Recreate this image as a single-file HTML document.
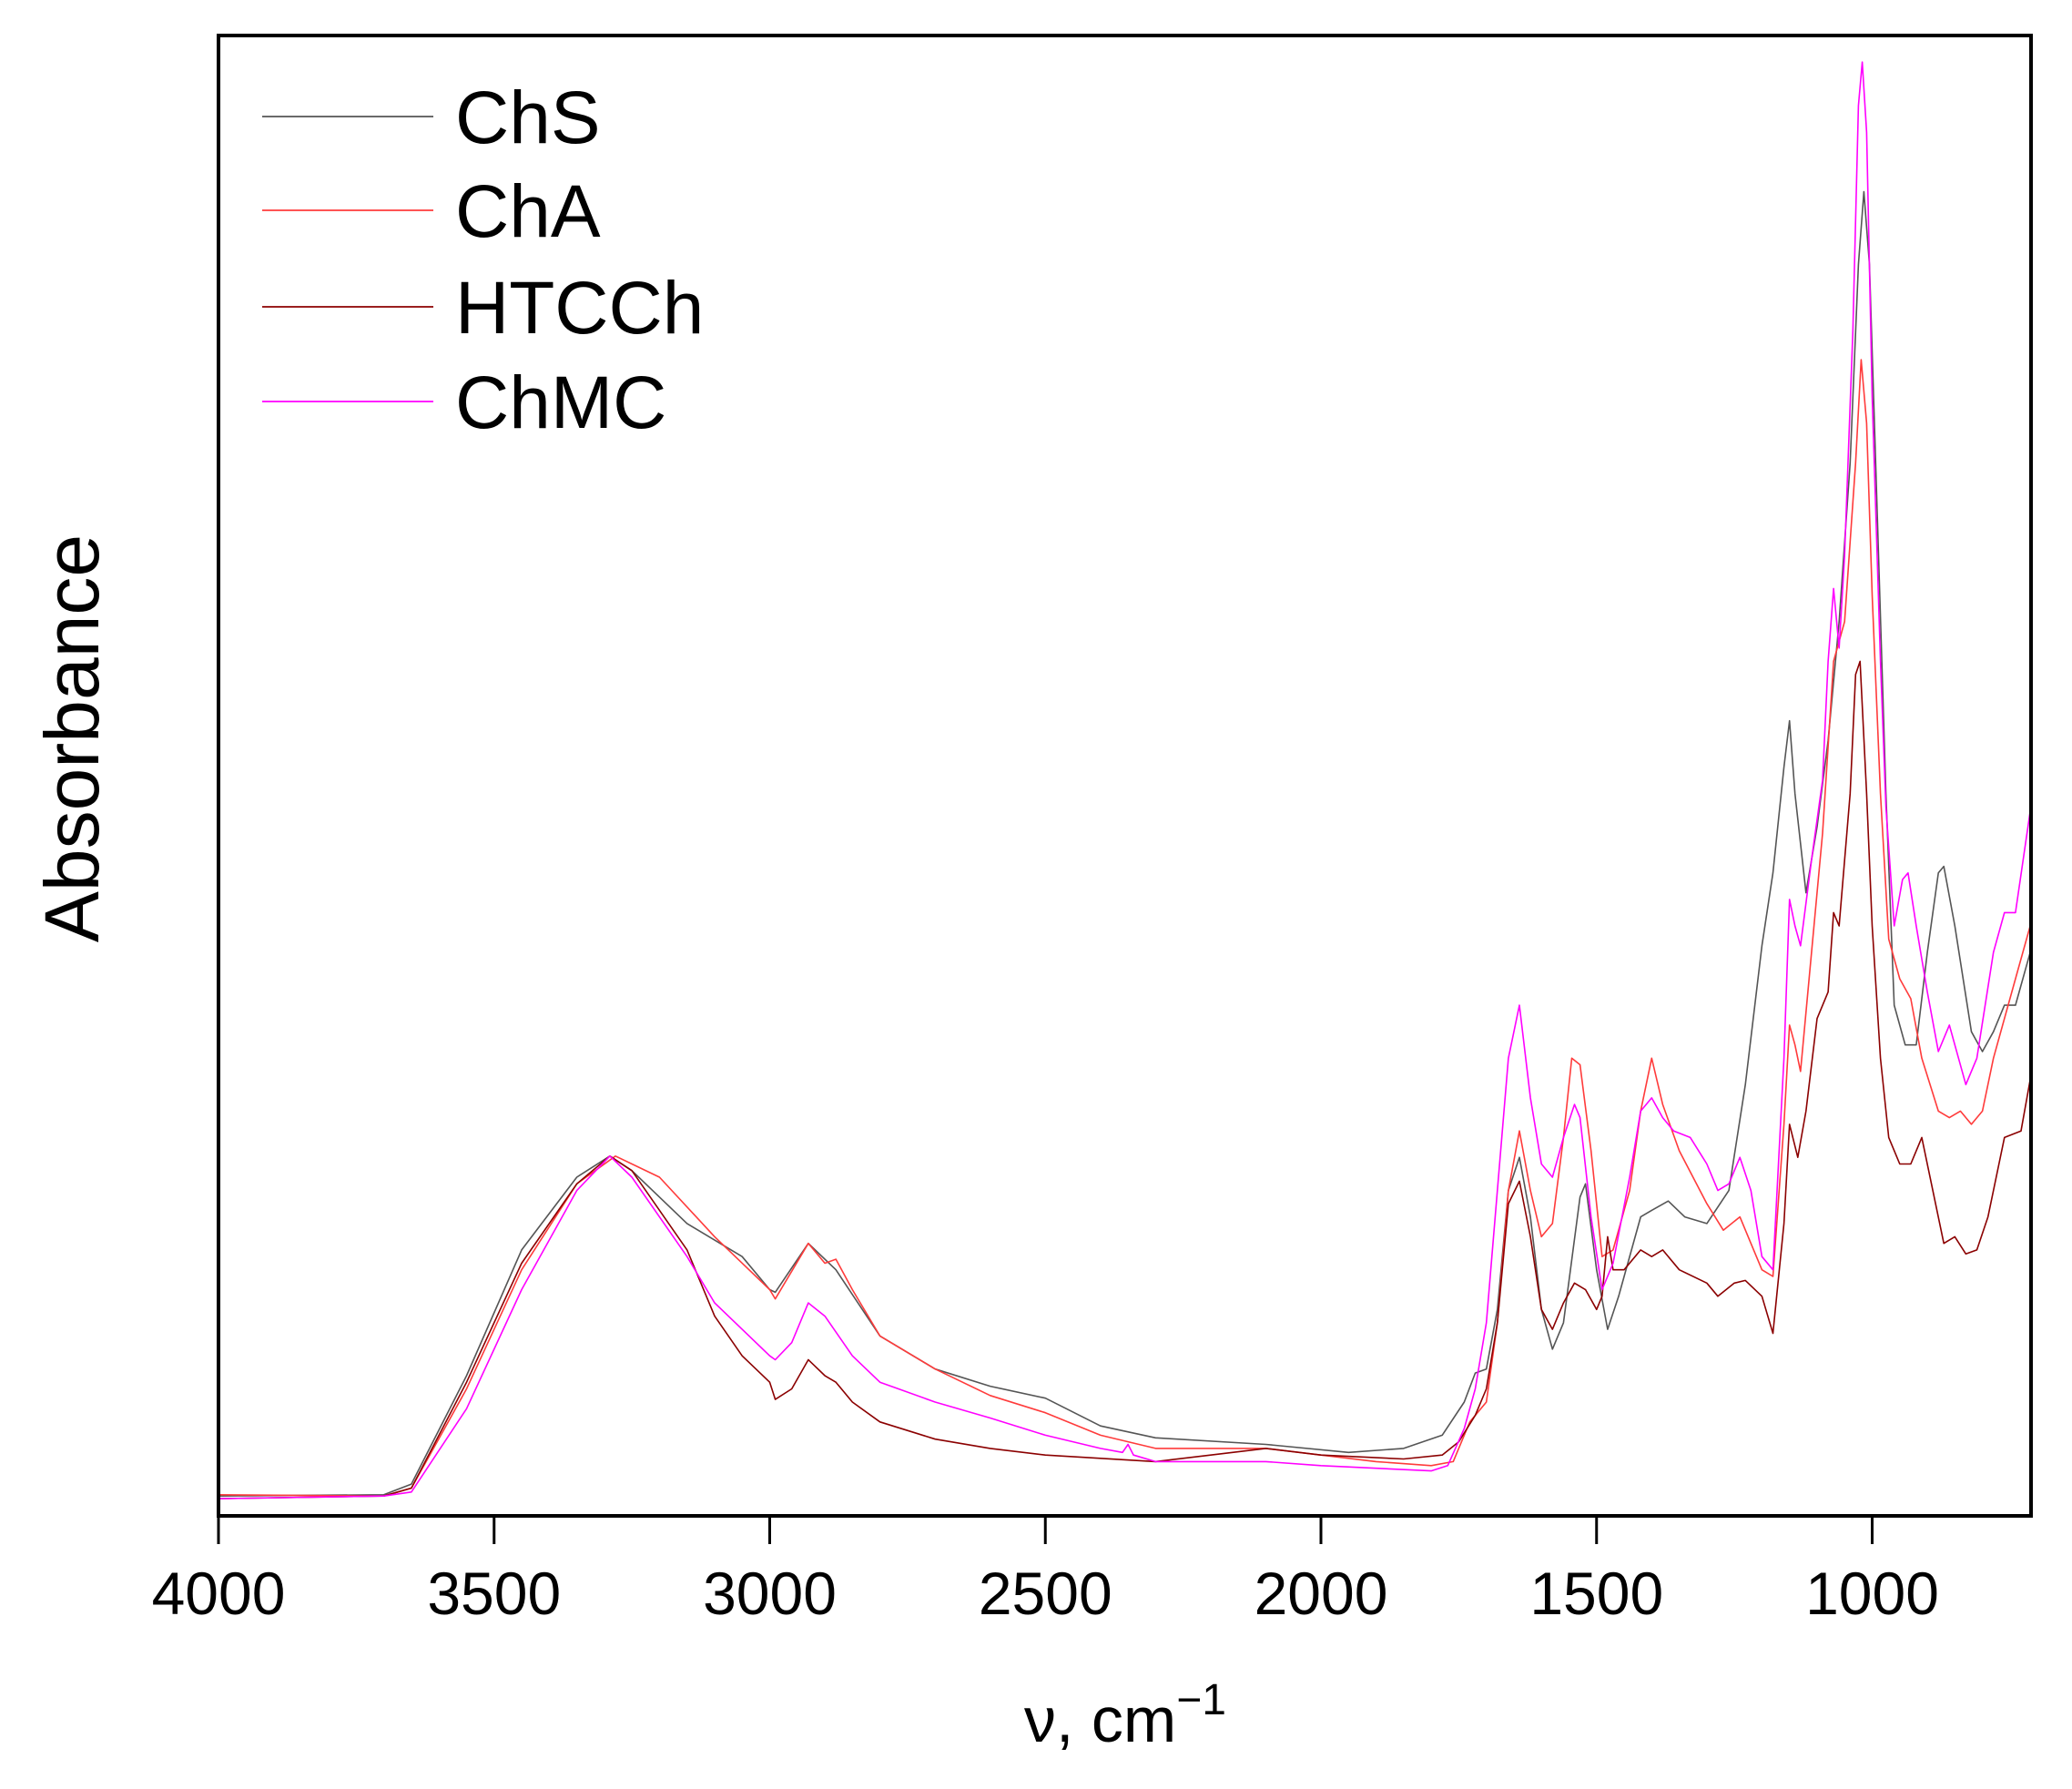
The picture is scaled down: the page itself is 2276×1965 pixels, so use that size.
<!DOCTYPE html>
<html><head><meta charset="utf-8"><style>
body{margin:0;background:#fff}
svg text{font-family:"Liberation Sans",Arial,sans-serif;fill:#000}
</style></head><body>
<svg id="chart" width="2276" height="1960" viewBox="0 0 2276 1960" xmlns="http://www.w3.org/2000/svg">
<rect width="2276" height="1960" fill="#fff"/>
<defs><clipPath id="pc"><rect x="240" y="39" width="1991" height="1626"/></clipPath></defs>
<g id="series" clip-path="url(#pc)"></g>
<rect x="240" y="39" width="1991" height="1626" fill="none" stroke="#000" stroke-width="4"/>
<g id="ticks"></g>
<text x="1236" y="1913" font-size="70" text-anchor="middle">ν, cm<tspan dy="-30" font-size="48">−1</tspan></text>
<text transform="translate(108,811) rotate(-90)" font-size="84" text-anchor="middle">Absorbance</text>
<g id="legend"></g>
</svg>
<script>
const xTicks=[4000,3500,3000,2500,2000,1500,1000];
const seriesNames=["ChS","ChA","HTCCh","ChMC"];
const seriesColors=["#555555","#ff3b3b","#8b0000","#ff00ff"];
const chsX=[4000,3700,3650,3550,3450,3350,3290,3250,3150,3050,3000,2990,2930,2880,2800,2700,2600,2500,2400,2300,2100,1950,1850,1780,1740,1720,1700,1680,1660,1640,1620,1600,1580,1560,1530,1520,1500,1480,1460,1420,1400,1370,1340,1300,1260,1230,1200,1180,1160,1150,1140,1120,1100,1080,1060,1040,1025,1015,1005,990,975,960,940,920,900,880,870,850,820,800,780,760,740,700];
const chsY=[1.5,1.6,2.4,10.6,20.1,25.6,27.2,26.1,22.1,19.6,17.1,16.9,20.6,18.6,13.6,11.1,9.8,8.9,6.8,5.9,5.4,4.8,5.1,6.1,8.6,10.8,11.1,15.6,24.6,27.1,22.6,15.6,12.6,14.6,24.1,25.1,18.6,14.1,16.6,22.6,23.1,23.8,22.6,22.1,24.6,32.6,43.1,48.6,56.6,60.1,54.6,47.1,52.1,58.6,67.6,79.6,94.6,100.1,94.6,74.6,54.6,38.6,35.6,35.6,42.6,48.6,49.1,44.6,36.6,35.1,36.6,38.6,38.6,44.6];
const chaX=[4000,3700,3650,3550,3450,3350,3280,3200,3100,3000,2990,2930,2900,2880,2850,2800,2700,2600,2500,2400,2300,2100,2000,1900,1800,1760,1730,1700,1680,1660,1640,1620,1600,1580,1560,1545,1530,1510,1490,1470,1440,1420,1400,1380,1350,1300,1270,1240,1220,1200,1180,1160,1150,1140,1130,1110,1090,1070,1050,1030,1020,1010,1000,985,970,950,930,910,880,860,840,820,800,780,740,700];
const chaY=[1.6,1.5,2.1,9.6,18.6,25.1,27.2,25.6,21.1,17.1,16.4,20.6,19.1,19.4,17.1,13.6,11.1,9.1,7.8,6.1,5.1,5.1,4.6,4.1,3.8,4.1,7.1,8.6,14.6,24.6,29.1,24.6,21.1,22.1,28.6,34.6,34.1,27.6,19.6,20.1,24.6,30.6,34.6,31.1,27.6,23.6,21.6,22.6,20.6,18.6,18.1,29.6,37.1,35.6,33.6,42.6,51.6,64.6,67.6,79.6,87.4,82.6,69.6,54.6,43.6,40.6,39.1,34.6,30.6,30.1,30.6,29.6,30.6,34.6,40.6,46.6];
const htcX=[4000,3700,3650,3550,3450,3350,3290,3250,3150,3100,3050,3000,2990,2960,2930,2900,2880,2850,2800,2700,2600,2500,2300,2200,2100,2000,1850,1780,1750,1720,1700,1680,1660,1640,1620,1600,1580,1560,1540,1520,1500,1490,1480,1470,1450,1420,1400,1380,1350,1300,1280,1250,1230,1200,1180,1160,1150,1135,1120,1100,1080,1070,1060,1040,1030,1022,1010,1000,985,970,950,930,910,890,870,850,830,810,790,760,730,700];
const htcY=[1.3,1.5,2.1,10.1,19.1,25.1,27.2,26.1,20.1,15.1,12.1,10.1,8.8,9.6,11.8,10.6,10.1,8.6,7.1,5.8,5.1,4.6,4.1,4.6,5.1,4.6,4.3,4.6,5.6,7.6,9.6,14.6,23.6,25.3,21.1,15.6,14.1,16.1,17.6,17.1,15.6,16.6,21.1,18.6,18.6,20.1,19.6,20.1,18.6,17.6,16.6,17.6,17.8,16.6,13.8,22.1,29.6,27.1,30.6,37.6,39.6,45.6,44.6,54.6,63.6,64.6,54.6,44.6,34.6,28.6,26.6,26.6,28.6,24.6,20.6,21.1,19.8,20.1,22.6,28.6,29.1,36.1];
const chmX=[4000,3700,3650,3550,3450,3350,3290,3250,3150,3100,3050,3000,2990,2960,2930,2900,2850,2800,2700,2600,2500,2400,2360,2350,2340,2300,2100,2000,1800,1770,1740,1720,1700,1680,1660,1640,1620,1600,1580,1560,1540,1530,1510,1490,1470,1440,1420,1400,1380,1360,1330,1300,1280,1260,1240,1220,1200,1180,1160,1150,1140,1130,1110,1090,1080,1070,1060,1050,1035,1025,1018,1010,1000,985,975,960,945,935,920,900,880,860,850,830,810,780,760,740,700];
const chmY=[1.3,1.5,1.8,8.1,17.1,24.6,27.2,25.6,19.6,16.1,14.1,12.1,11.8,13.1,16.1,15.1,12.1,10.1,8.6,7.4,6.1,5.1,4.8,5.4,4.6,4.1,4.1,3.8,3.4,3.8,6.6,9.6,14.6,24.6,34.6,38.6,31.6,26.6,25.6,28.6,31.1,30.1,22.6,17.1,19.1,25.6,30.6,31.6,30.1,29.1,28.6,26.6,24.6,25.1,27.1,24.6,19.6,18.6,34.6,46.6,44.6,43.1,49.6,55.6,64.6,70.1,65.6,72.6,89.6,106.6,109.9,104.6,84.6,64.6,53.6,44.6,48.1,48.6,44.6,39.6,35.1,37.1,35.6,32.6,34.6,42.6,45.6,45.6,57.1];

const NS="http://www.w3.org/2000/svg";
function sx(v){return 240+(4000-v)*0.6055;}
function sy(v){return 1665-v*14.53;}
const allX=[chsX,chaX,htcX,chmX], allY=[chsY,chaY,htcY,chmY];
const sg=document.getElementById('series');
for(let s=0;s<4;s++){
  const p=document.createElementNS(NS,'path');
  let d='';
  for(let i=0;i<allX[s].length;i++){d+=(i?'L':'M')+sx(allX[s][i]).toFixed(1)+','+sy(allY[s][i]).toFixed(1);}
  p.setAttribute('d',d);p.setAttribute('fill','none');p.setAttribute('stroke',seriesColors[s]);p.setAttribute('stroke-width','1.6');p.setAttribute('stroke-linejoin','round');
  
  
  sg.appendChild(p);
}
const tg=document.getElementById('ticks');
xTicks.forEach(t=>{
  const l=document.createElementNS(NS,'line');
  l.setAttribute('x1',sx(t));l.setAttribute('x2',sx(t));l.setAttribute('y1',1665);l.setAttribute('y2',1696);l.setAttribute('stroke','#000');l.setAttribute('stroke-width','3');
  
  
  tg.appendChild(l);
  const tx=document.createElementNS(NS,'text');
  tx.setAttribute('x',sx(t));tx.setAttribute('y',1773);tx.setAttribute('font-size','66');tx.setAttribute('text-anchor','middle');
  tx.textContent=t;
  
  
  tg.appendChild(tx);
});
const lg=document.getElementById('legend');
const rowY=[128,231,337,441];
for(let s=0;s<4;s++){
  const l=document.createElementNS(NS,'line');
  l.setAttribute('x1',288);l.setAttribute('x2',476);l.setAttribute('y1',rowY[s]);l.setAttribute('y2',rowY[s]);l.setAttribute('stroke',seriesColors[s]);l.setAttribute('stroke-width','1.8');
  
  
  lg.appendChild(l);
  const tx=document.createElementNS(NS,'text');
  tx.setAttribute('x',500);tx.setAttribute('y',rowY[s]+29);tx.setAttribute('font-size','82');
  tx.textContent=seriesNames[s];
  
  
  lg.appendChild(tx);
}
</script>
</body></html>
